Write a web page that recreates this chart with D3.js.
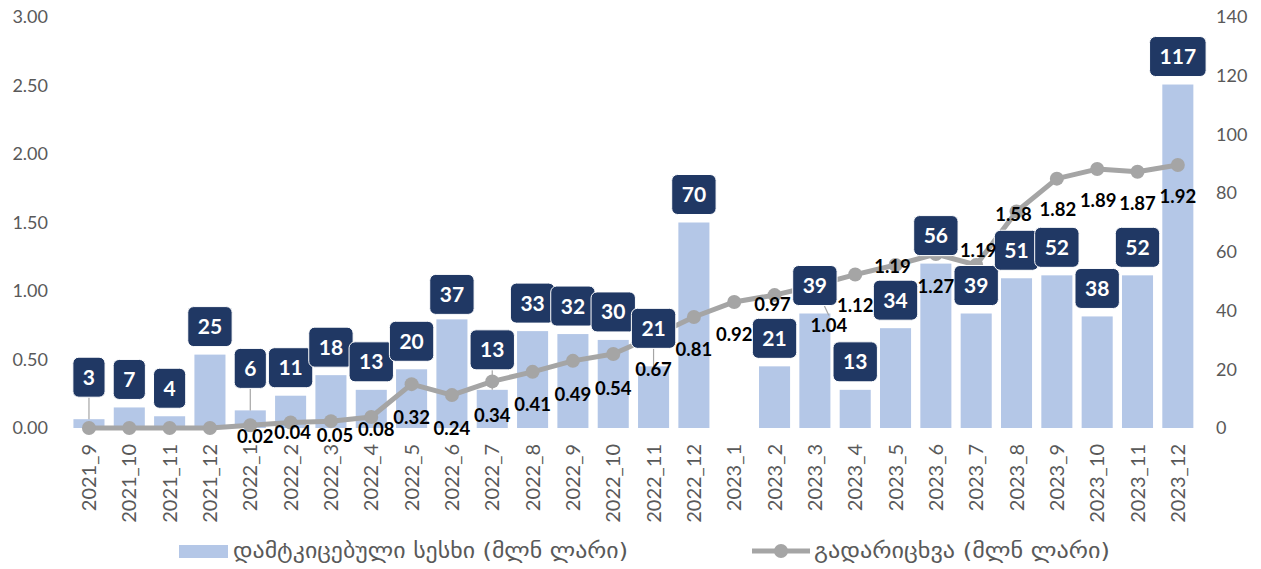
<!DOCTYPE html>
<html>
<head>
<meta charset="utf-8">
<script src="https://cdn.jsdelivr.net/npm/d3@7"></script>
<style>
  body { margin: 0; background: #fff; }
  text { font-family: Lato, "Open Sans", sans-serif; }
</style>
</head>
<body>
<script>
// data
var months = ["2021_9", "2021_10", "2021_11", "2021_12", "2022_1", "2022_2", "2022_3", "2022_4",
  "2022_5", "2022_6", "2022_7", "2022_8", "2022_9", "2022_10", "2022_11", "2022_12",
  "2023_1", "2023_2", "2023_3", "2023_4", "2023_5", "2023_6", "2023_7", "2023_8",
  "2023_9", "2023_10", "2023_11", "2023_12"];
var approved = [3, 7, 4, 25, 6, 11, 18, 13, 20, 37, 13, 33, 32, 30, 21, 70,
  null, 21, 39, 13, 34, 56, 39, 51, 52, 38, 52, 117];
var disbursed = [0, 0, 0, 0, 0.02, 0.04, 0.05, 0.08, 0.32, 0.24, 0.34, 0.41, 0.49, 0.54, 0.67, 0.81,
  0.92, 0.97, 1.04, 1.12, 1.19, 1.27, 1.19, 1.58, 1.82, 1.89, 1.87, 1.92];
var leftTicks = [0, 0.5, 1, 1.5, 2, 2.5, 3];
var rightTicks = [0, 20, 40, 60, 80, 100, 120, 140];
var seriesNames = ["დამტკიცებული სესხი (მლნ ლარი)", "გადარიცხვა (მლნ ლარი)"];

// label placement (moved by hand in the original)
var boxLift = {0: 42, 4: 42, 9: 25, 10: 40, 14: 38};
var boxLeader = [0, 4, 10, 14];
var lineLabelShift = {
  4: [5, 11], 5: [2, 10], 6: [4, 14], 7: [5, 12], 8: [0, 33], 9: [0, 33], 10: [0, 34],
  11: [0, 33], 12: [0, 33], 13: [0, 34], 14: [0, 33], 15: [0, 32], 16: [0, 32],
  17: [-2, 9], 18: [14, 40], 19: [0, 31], 20: [-3, 1], 21: [0, 32], 22: [2, -15],
  23: [-3, 2.5], 24: [1, 31], 25: [1, 31], 26: [0, 32], 27: [0, 31]
};

var width = 1261, height = 569;
var plotLeft = 68.8, plotRight = 1198, plotTop = 17, plotBottom = 428;
var barColor = "#b4c7e7", boxColor = "#203864", lineColor = "#a5a5a5", textColor = "#595959";

var svg = d3.select("body").append("svg")
  .attr("width", width)
  .attr("height", height);

var x = d3.scaleBand().domain(months).range([plotLeft, plotRight])
  .paddingInner(0.23).paddingOuter(0.115);
var yL = d3.scaleLinear().domain([0, 3]).range([plotBottom, plotTop]);
var yR = d3.scaleLinear().domain([0, 140]).range([plotBottom, plotTop]);
function cx(m) { return x(m) + x.bandwidth() / 2; }

// axes
var axL = svg.append("g").attr("transform", "translate(52,0)")
  .call(d3.axisLeft(yL).tickValues(leftTicks).tickFormat(d3.format(".2f")).tickSize(0).tickPadding(4));
var axR = svg.append("g").attr("transform", "translate(1212,0)")
  .call(d3.axisRight(yR).tickValues(rightTicks).tickSize(0).tickPadding(4));
var axB = svg.append("g").attr("transform", "translate(0," + plotBottom + ")")
  .call(d3.axisBottom(x).tickSize(0));
[axL, axR, axB].forEach(function (a) {
  a.select(".domain").remove();
  a.selectAll("text").attr("fill", textColor).style("font-size", "18px")
    .style("font-family", "Lato, sans-serif");
});
axB.selectAll("text")
  .attr("transform", "rotate(-90)")
  .attr("x", -16).attr("y", 0).attr("dy", "0.35em")
  .style("text-anchor", "end")
  .style("font-size", "20px");

// bars
svg.append("g").selectAll("rect")
  .data(months.map(function (m, i) { return {m: m, v: approved[i]}; }).filter(function (d) { return d.v != null; }))
  .enter().append("rect")
  .attr("x", function (d) { return x(d.m); })
  .attr("width", x.bandwidth())
  .attr("y", function (d) { return yR(d.v); })
  .attr("height", function (d) { return plotBottom - yR(d.v); })
  .attr("fill", barColor);

// leader lines for bar labels
svg.append("g").selectAll("line")
  .data(boxLeader)
  .enter().append("line")
  .attr("x1", function (i) { return cx(months[i]); })
  .attr("x2", function (i) { return cx(months[i]); })
  .attr("y1", function (i) { return yR(approved[i]) - boxLift[i] + 20; })
  .attr("y2", function (i) { return yR(approved[i]); })
  .attr("stroke", lineColor).attr("stroke-width", 1.2);

// leader for 1.04
svg.append("line")
  .attr("x1", cx(months[18])).attr("y1", yL(disbursed[18]))
  .attr("x2", cx(months[18]) + lineLabelShift[18][0]).attr("y2", yL(disbursed[18]) + lineLabelShift[18][1] - 10)
  .attr("stroke", lineColor).attr("stroke-width", 1.2);

// line
var line = d3.line()
  .x(function (d, i) { return cx(months[i]); })
  .y(function (d) { return yL(d); });
svg.append("path")
  .datum(disbursed)
  .attr("d", line)
  .attr("fill", "none")
  .attr("stroke", lineColor)
  .attr("stroke-width", 5)
  .attr("stroke-linejoin", "round");
svg.append("g").selectAll("circle")
  .data(disbursed)
  .enter().append("circle")
  .attr("cx", function (d, i) { return cx(months[i]); })
  .attr("cy", function (d) { return yL(d); })
  .attr("r", 7)
  .attr("fill", lineColor);

// bar label boxes
var boxes = svg.append("g").selectAll("g")
  .data(months.map(function (m, i) { return {m: m, v: approved[i], i: i}; }).filter(function (d) { return d.v != null; }))
  .enter().append("g")
  .attr("transform", function (d) {
    var lift = boxLift[d.i] != null ? boxLift[d.i] : 28;
    return "translate(" + cx(d.m) + "," + (yR(d.v) - lift) + ")";
  });
boxes.append("text")
  .text(function (d) { return d.v; })
  .attr("text-anchor", "middle")
  .attr("dy", "0.36em")
  .attr("fill", "#fff")
  .style("font-size", "21px")
  .style("font-weight", "bold");
boxes.each(function () {
  var g = d3.select(this);
  var w = g.select("text").node().getComputedTextLength() + 20;
  g.insert("rect", "text")
    .attr("x", -w / 2).attr("y", -20)
    .attr("width", w).attr("height", 40)
    .attr("rx", 6)
    .attr("fill", boxColor)
    .attr("stroke", "#fff").attr("stroke-width", 1);
});

// line labels
svg.append("g").selectAll("text")
  .data(disbursed.map(function (v, i) { return {v: v, i: i}; }).filter(function (d) { return d.v > 0; }))
  .enter().append("text")
  .attr("x", function (d) { return cx(months[d.i]) + lineLabelShift[d.i][0]; })
  .attr("y", function (d) { return yL(d.v) + lineLabelShift[d.i][1]; })
  .attr("dy", "0.36em")
  .attr("text-anchor", "middle")
  .attr("fill", "#000")
  .style("font-size", "18.5px")
  .style("font-weight", "bold")
  .text(function (d) { return d3.format(".2f")(d.v); });

// legend
var legend = svg.append("g");
legend.append("rect")
  .attr("x", 179).attr("y", 545).attr("width", 49).attr("height", 13)
  .attr("fill", barColor);
legend.append("text")
  .attr("x", 233).attr("y", 551).attr("dy", "0.35em")
  .attr("fill", textColor)
  .attr("textLength", 395).attr("lengthAdjust", "spacingAndGlyphs")
  .style("font-family", "'DejaVu Sans Condensed', 'DejaVu Sans', sans-serif")
  .style("font-size", "21px")
  .text(seriesNames[0]);
legend.append("line")
  .attr("x1", 752).attr("x2", 810).attr("y1", 551).attr("y2", 551)
  .attr("stroke", lineColor).attr("stroke-width", 5);
legend.append("circle")
  .attr("cx", 781).attr("cy", 551).attr("r", 7).attr("fill", lineColor);
legend.append("text")
  .attr("x", 814).attr("y", 551).attr("dy", "0.35em")
  .attr("fill", textColor)
  .attr("textLength", 296).attr("lengthAdjust", "spacingAndGlyphs")
  .style("font-family", "'DejaVu Sans Condensed', 'DejaVu Sans', sans-serif")
  .style("font-size", "21px")
  .text(seriesNames[1]);
</script>
</body>
</html>
